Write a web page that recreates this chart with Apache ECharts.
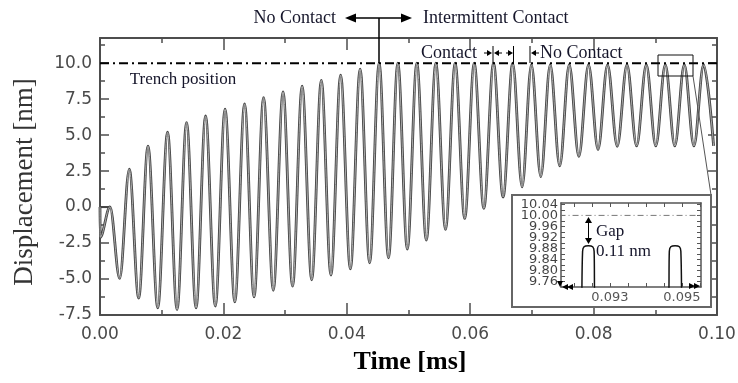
<!DOCTYPE html>
<html><head><meta charset="utf-8">
<script src="https://cdn.jsdelivr.net/npm/echarts@6/dist/echarts.min.js"></script>
<style>html,body{margin:0;padding:0;background:#fff}#c{width:738px;height:383px}</style>
</head><body><div id="c"></div>
<script>
// ---- data (time in ms, displacement in nm) ----
// extrema of the oscillation (peaks and troughs in order)
const timeMs = [0, 0.00003, 0.00162, 0.00319, 0.00475, 0.00627, 0.00778, 0.00936, 0.01095, 0.01249, 0.01403, 0.01557, 0.01711, 0.01869, 0.02027, 0.02185, 0.02343, 0.02497, 0.02651, 0.02809, 0.02967, 0.03121, 0.03276, 0.03431, 0.03587, 0.03743, 0.03900, 0.04058, 0.04216, 0.04370, 0.04524, 0.04676, 0.04827, 0.04981, 0.05135, 0.05289, 0.05443, 0.05600, 0.05756, 0.05911, 0.06065, 0.06221, 0.06378, 0.06533, 0.06689, 0.06841, 0.06992, 0.07144, 0.07297, 0.07451, 0.07605, 0.07761, 0.07918, 0.08072, 0.08226, 0.08383, 0.08541, 0.08697, 0.08854, 0.09008, 0.09162, 0.09316, 0.09470, 0.09626, 0.09783, 0.09945];
const displacementNm = [0, -2.1, 0.02,
  -4.96, 2.64, -6.33, 4.24, -7.0, 5.20, -7.12, 5.87, -7.0, 6.33, -6.88, 6.80, -6.59, 7.17,
  -6.24, 7.60, -5.78, 8.01, -5.50, 8.40, -5.05, 8.81, -4.73, 9.17, -4.30, 9.59,
  -3.87, 10.0, -3.53, 10.0, -2.92, 10.0, -2.30, 10.0, -1.55, 10.0, -0.79, 10.0, -0.09, 10.0, 0.70, 10.0,
  1.40, 9.89, 2.11, 9.89, 2.86, 9.89, 3.52, 9.89, 4.00, 9.89, 4.22, 9.89, 4.25, 9.89, 4.25, 9.89,
  4.25, 9.89, 4.25, 9.89, 4.25];
const startTime = [0, 0.00162];
const startDisp = [0, 0];
const trenchTime = [0, 0.1];
const trenchDisp = [10.0, 10.0];
// inset (zoom of two final peaks)
const insetTime = [0.09222, 0.09224, 0.09228, 0.09240, 0.09252, 0.09256, 0.09258, 0.09463, 0.09465, 0.09469, 0.09481, 0.09493, 0.09497, 0.09499];
const insetDisp = [9.70, 9.87, 9.886, 9.89, 9.886, 9.87, 9.70, 9.70, 9.87, 9.886, 9.89, 9.886, 9.87, 9.70];
const insetTrenchTime = [0.0916, 0.0956];
const insetTrenchDisp = [10.0, 10.0];
const insetYLabels = [9.76, 9.80, 9.84, 9.88, 9.92, 9.96, 10.00, 10.04];
const insetYTicks = [9.76, 9.78, 9.80, 9.82, 9.84, 9.86, 9.88, 9.90, 9.92, 9.94, 9.96, 9.98, 10.00, 10.02, 10.04];
const insetXLabels = [0.093, 0.095];
const insetXTicks = [0.092, 0.0925, 0.093, 0.0935, 0.094, 0.0945, 0.095, 0.0955];
const INSET_XMIN = 0.09164, INSET_XMAX = 0.09553;

const zip = (a, b) => a.map((v, i) => [v, b[i]]);

const AX = '#4d4d4d';
const SERIF = '"Liberation Serif", "Times New Roman", serif';
const SANS = '"DejaVu Sans", sans-serif';
const TXT = '#15152a';

function mainX(pos, labels) {
  return {
    type: 'value', gridIndex: 0, position: pos, min: 0, max: 0.1, interval: 0.02,
    axisLine: { show: true, onZero: false, lineStyle: { color: AX, width: 2 } },
    axisTick: { show: true, inside: true, length: 12, lineStyle: { color: AX, width: 1.5 } },
    minorTick: { show: true, splitNumber: 2, length: 5, lineStyle: { color: AX, width: 1.5 } },
    splitLine: { show: false },
    axisLabel: { show: labels, formatter: v => v.toFixed(2), fontFamily: SANS, fontSize: 17, color: '#4a4a4a', margin: 11 }
  };
}
function mainY(pos, labels) {
  return {
    type: 'value', gridIndex: 0, position: pos, min: -7.5, max: 11.75, interval: 2.5,
    axisLine: { show: true, onZero: false, lineStyle: { color: AX, width: 2 } },
    axisTick: { show: true, inside: true, length: 9, lineStyle: { color: AX, width: 1.5 } },
    minorTick: { show: true, splitNumber: 2, length: 5, lineStyle: { color: AX, width: 1.5 } },
    splitLine: { show: false },
    axisLabel: { show: labels, showMaxLabel: false, formatter: v => v.toFixed(1), fontFamily: SANS, fontSize: 17, color: '#4a4a4a', margin: 8 }
  };
}
function insetX(pos, labels) {
  return {
    type: 'value', gridIndex: 1, position: pos, min: INSET_XMIN, max: INSET_XMAX, z: 20,
    axisLine: { show: true, onZero: false, lineStyle: { color: '#555', width: 1.5 } },
    axisTick: { show: true, inside: true, length: 4, customValues: insetXTicks, lineStyle: { color: '#555', width: 1 } },
    splitLine: { show: false },
    axisLabel: { show: labels, customValues: insetXLabels, formatter: v => v.toFixed(3), fontFamily: SANS, fontSize: 13, color: '#555', margin: 4 }
  };
}
function insetY(pos) {
  return {
    type: 'value', gridIndex: 1, position: pos, min: 9.74, max: 10.045, z: 20,
    axisLine: { show: true, onZero: false, lineStyle: { color: '#555', width: 1.5 } },
    axisTick: { show: true, inside: true, length: 4, customValues: insetYTicks, lineStyle: { color: '#555', width: 1 } },
    splitLine: { show: false },
    axisLabel: { show: false }
  };
}

function head(tx, ty, dir, len, hw) {
  let p;
  if (dir === 'r') p = [[tx, ty], [tx - len, ty - hw], [tx - len, ty + hw]];
  else if (dir === 'l') p = [[tx, ty], [tx + len, ty - hw], [tx + len, ty + hw]];
  else if (dir === 'u') p = [[tx, ty], [tx - hw, ty + len], [tx + hw, ty + len]];
  else p = [[tx, ty], [tx - hw, ty - len], [tx + hw, ty - len]];
  return { type: 'polygon', z: 30, shape: { points: p }, style: { fill: '#000' } };
}
function seg(x1, y1, x2, y2, w, c, z) {
  return { type: 'line', z: z || 30, shape: { x1, y1, x2, y2 }, style: { stroke: c || '#000', lineWidth: w || 1 } };
}
function txt(x, y, text, size, align, extra) {
  return Object.assign({ type: 'text', z: 30, x, y, style: { text, fill: TXT, font: size + 'px ' + SERIF, align, verticalAlign: 'middle' } }, extra || {});
}

const graphics = [
  txt(336, 18, 'No Contact', 18, 'right'),
  seg(350, 18, 407, 18, 1.5),
  head(345, 18, 'l', 11, 4.5), head(412, 18, 'r', 11, 4.5),
  seg(379, 18, 379, 63, 1.5),
  txt(423, 18, 'Intermittent Contact', 18, 'left'),
  txt(183, 80, 'Trench position', 17, 'center'),
  txt(421, 53, 'Contact', 18, 'left'),
  seg(484, 53, 489, 53, 1), head(492, 53, 'r', 5, 3),
  seg(493, 46, 493, 63, 1),
  head(494, 53, 'l', 5, 3), seg(498, 53, 502, 53, 1),
  seg(506, 53, 510, 53, 1), head(513, 53, 'r', 5, 3),
  seg(513.5, 46, 513.5, 63, 1),
  seg(530, 46, 530, 63, 1),
  head(531, 53, 'l', 5, 3), seg(535, 53, 539, 53, 1),
  txt(540, 53, 'No Contact', 18, 'left'),
  { type: 'rect', z: 12, shape: { x: 658, y: 55, width: 35, height: 21 }, style: { fill: 'none', stroke: '#111', lineWidth: 1 } },
  seg(693, 76, 711, 195, 1, '#555', 9),
  { type: 'rect', z: 10, shape: { x: 512, y: 195, width: 199, height: 112 }, style: { fill: '#fff', stroke: '#666', lineWidth: 2 } },
  seg(588.5, 222, 588.5, 239, 1),
  head(588.5, 217, 'u', 6, 3.5), head(588.5, 244, 'd', 6, 3.5),
  txt(596, 232, 'Gap', 17, 'left'),
  txt(596, 252, '0.11 nm', 17, 'left'),
  head(560, 287, 'd', 6, 3), head(562, 287, 'l', 6, 3), head(567, 287, 'l', 6, 3),
  head(695, 286, 'r', 6, 3), head(700, 286, 'r', 6, 3),
  txt(25, 182, 'Displacement [nm]', 27, 'center', { rotation: Math.PI / 2, style: { text: 'Displacement [nm]', fill: '#333', font: '27px ' + SERIF, align: 'center', verticalAlign: 'middle' } }),
  txt(410, 362, 'Time [ms]', 26, 'center', { style: { text: 'Time [ms]', fill: '#000', font: 'bold 26px ' + SERIF, align: 'center', verticalAlign: 'middle' } })
];

const chart = echarts.init(document.getElementById('c'), null, { renderer: 'canvas' });
chart.setOption({
  animation: false,
  backgroundColor: '#fff',
  grid: [
    { left: 100, right: 21, top: 38, bottom: 68, outerBoundsMode: 'none' },
    { left: 561, right: 37, top: 203, bottom: 96, outerBoundsMode: 'none', z: 20 }
  ],
  xAxis: [mainX('bottom', true), mainX('top', false), insetX('bottom', true), insetX('top', false)],
  yAxis: [mainY('left', true), mainY('right', false), insetY('left'), insetY('right')],
  series: [
    { type: 'line', xAxisIndex: 0, yAxisIndex: 0, data: zip(trenchTime, trenchDisp), showSymbol: false, z: 4,
      lineStyle: { color: '#000', width: 2, type: [9, 4, 2, 4] } },
    { type: 'line', xAxisIndex: 0, yAxisIndex: 0, data: zip(startTime, startDisp), showSymbol: false, z: 3,
      lineStyle: { color: '#444', width: 2 } },
    { type: 'line', xAxisIndex: 0, yAxisIndex: 0, data: zip(timeMs, displacementNm), showSymbol: false, z: 3,
      smooth: 0.34, smoothMonotone: 'x', lineStyle: { color: '#464646', width: 2.8 } },
    { type: 'line', xAxisIndex: 0, yAxisIndex: 0, data: zip(timeMs, displacementNm), showSymbol: false, z: 3,
      smooth: 0.34, smoothMonotone: 'x', lineStyle: { color: '#aaaaaa', width: 1 } },
    { type: 'line', xAxisIndex: 2, yAxisIndex: 2, data: zip(insetTrenchTime, insetTrenchDisp), showSymbol: false, z: 20,
      lineStyle: { color: '#777', width: 1, type: [6, 3, 1, 3] } },
    { type: 'line', xAxisIndex: 2, yAxisIndex: 2, data: zip(insetTime, insetDisp), showSymbol: false, z: 20,
      smooth: 0.3, lineStyle: { color: '#111', width: 1.5 } },
    { type: 'scatter', xAxisIndex: 2, yAxisIndex: 2, z: 25, symbolSize: 0, clip: false, silent: true,
      data: insetYLabels.map(v => [INSET_XMIN, v]),
      label: { show: true, position: 'left', distance: 3, formatter: p => p.value[1].toFixed(2),
        fontFamily: SANS, fontSize: 13, color: '#111' } }
  ],
  graphic: { elements: graphics }
});
</script></body></html>
